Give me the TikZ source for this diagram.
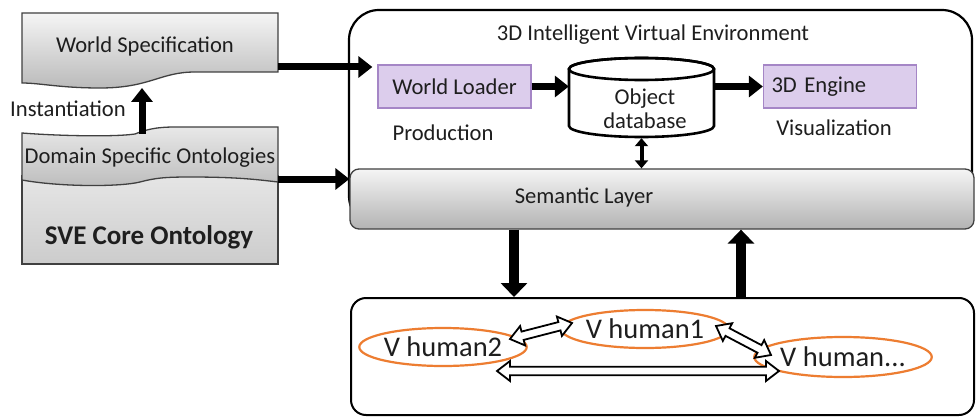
\documentclass[tikz,border=0pt]{standalone}
\usepackage{fontspec}
\setmainfont{Carlito}
\usetikzlibrary{arrows.meta,calc,shapes.geometric}
\definecolor{txt}{HTML}{1E1E1E}
\definecolor{lav}{HTML}{DCCDEC}
\definecolor{lavb}{HTML}{A586C6}
\definecolor{orng}{HTML}{ED7D31}
\definecolor{grayb}{HTML}{404040}
\tikzset{
 lbl/.style={font=\fontsize{22.6}{24}\selectfont, text=txt, inner sep=0pt},
 docshape/.style={draw=grayb, line width=1.3pt, top color=black!4, bottom color=black!27},
 fat/.style={line width=7pt, -{Triangle[length=14pt,width=21pt]}},
 fatter/.style={line width=10pt, -{Triangle[length=14pt,width=26pt]}},
 purplebox/.style={draw=lavb, line width=1.3pt, fill=lav, minimum width=153pt, minimum height=43pt, inner sep=0pt, font=\fontsize{22.6}{24}\selectfont, text=txt},
 vh/.style={ellipse, draw=orng, line width=2.2pt, minimum width=146pt, minimum height=38pt, font=\fontsize{28.5}{30}\selectfont, text=txt, inner sep=0pt},
 hollow/.style={draw=black, line width=1.8pt, fill=white, line join=miter},
}
\newcommand\hollowarrow[2]{%
 \draw[hollow] (#1) -- ($(#1)!13pt!(#2)!10pt!90:(#2)$) -- ($(#1)!13pt!(#2)!4.3pt!90:(#2)$)
  -- ($(#2)!13pt!(#1)!4.3pt!-90:(#1)$) -- ($(#2)!13pt!(#1)!10pt!-90:(#1)$) -- (#2)
  -- ($(#2)!13pt!(#1)!10pt!90:(#1)$) -- ($(#2)!13pt!(#1)!4.3pt!90:(#1)$)
  -- ($(#1)!13pt!(#2)!4.3pt!-90:(#2)$) -- ($(#1)!13pt!(#2)!10pt!-90:(#2)$) -- cycle;}
\begin{document}
\begin{tikzpicture}[x=1pt,y=-1pt]
\useasboundingbox[fill=white] (0,0) rectangle (976,417);

% ---------- left: world specification ----------
\path[docshape] (22,13) -- (278,13) -- (278,72) -- (195,72)
  .. controls (160,72) and (150,88) .. (100,88)
  .. controls (60,88) and (40,83) .. (22,83) -- cycle;
\node[lbl] (ws) at (145,46) {World Specification};

% ---------- SVE core ontology + domain ontologies ----------
\path[draw=grayb, line width=1.3pt, top color=black!10, bottom color=black!20] (22,176) rectangle (278,264);
\path[docshape, top color=black!9, bottom color=black!26] (22,133)
  .. controls (60,136) and (115,137) .. (135,134)
  .. controls (145,130) and (155,127) .. (175,127) -- (278,127) -- (278,182)
  .. controls (260,180) and (240,177) .. (190,177)
  .. controls (165,177) and (155,178) .. (140,182)
  .. controls (120,187) and (60,187) .. (22,180) -- cycle;
\node[lbl] (dso) at (150,158) {Domain Specific Ontologies};
\node[lbl, font=\fontsize{27}{29}\selectfont\bfseries] (core) at (149,237) {SVE Core Ontology};
\node[lbl] (inst) at (68,109) {Instantiation};

\coordinate (dsoT) at (142,133.5);
\coordinate (wsB) at (142,88);
\draw[fat] (dsoT) -- (wsB);

% ---------- 3D intelligent virtual environment ----------
\draw[line width=2.2pt, rounded corners=30pt] (349,10) rectangle (972,226);
\node[lbl] (title) at (653,35) {3D Intelligent Virtual Environment};

\node[purplebox] (wl) at (454.5,86.5) {World Loader};
\node[purplebox, text width=137pt, align=left] (eng) at (840,86.5) {3D Engine};
\node[lbl] (prod) at (443,133) {Production};
\node[lbl] (vis) at (834,128) {Visualization};

% object database cylinder
\node[minimum width=145pt, minimum height=79pt, inner sep=0pt] (db) at (641.5,98.5) {};
\draw[line width=2.6pt, fill=white] (569,69) -- (569,126)
  arc[start angle=180, end angle=0, x radius=72.5, y radius=11] -- (714,69)
  arc[start angle=0, end angle=-180, x radius=72.5, y radius=11] -- cycle;
\draw[line width=2.6pt] (641.5,69) ellipse [x radius=72.5, y radius=11];
\node[lbl, align=center] (dbt) at (645,109) {Object\\database};

\node[draw=grayb, line width=1.3pt, rounded corners=9pt, top color=black!4, bottom color=black!30,
  minimum width=624pt, minimum height=60pt, inner sep=0pt] (sem) at (662,199) {};
\node[lbl] (semt) at (584,198) {Semantic Layer};

\draw[fat] (wl.east) -- (wl.east -| db.west);
\draw[fat] (db.east |- eng.west) -- (eng.west);
\draw[line width=4pt, {Triangle[length=8pt,width=13pt]}-{Triangle[length=8pt,width=13pt]}] (db.south) -- (db.south |- sem.north);

\coordinate (wsR) at (278,67);
\draw[fat] (wsR) -- ([xshift=-5pt]wsR -| wl.west);
\coordinate (dsoR) at (278,179);
\draw[fat] (dsoR) -- (dsoR -| sem.west);

% ---------- virtual humans ----------
\node[draw, line width=2pt, rounded corners=15pt, minimum width=623pt, minimum height=117pt, inner sep=0pt] (bot) at (662.5,356.5) {};
\coordinate (xa) at (514,0);
\coordinate (xb) at (741,0);
\draw[fatter] (sem.south -| xa) -- (bot.north -| xa);
\draw[fatter] (bot.north -| xb) -- (sem.south -| xb);

\node[vh] (h2) at (443,347) {V human2};
\node[vh] (h1) at (645,329) {V human1};
\node[vh, minimum height=40pt] (hn) at (843,357) {V human...};

\coordinate (a1s) at (510,339);
\coordinate (a1e) at (572,323);
\coordinate (a2s) at (716,326);
\coordinate (a2e) at (771,355);
\coordinate (a3s) at (497,371);
\coordinate (a3e) at (779,371);
\hollowarrow{a1s}{a1e}
\hollowarrow{a2s}{a2e}
\hollowarrow{a3s}{a3e}
\end{tikzpicture}
\end{document}
